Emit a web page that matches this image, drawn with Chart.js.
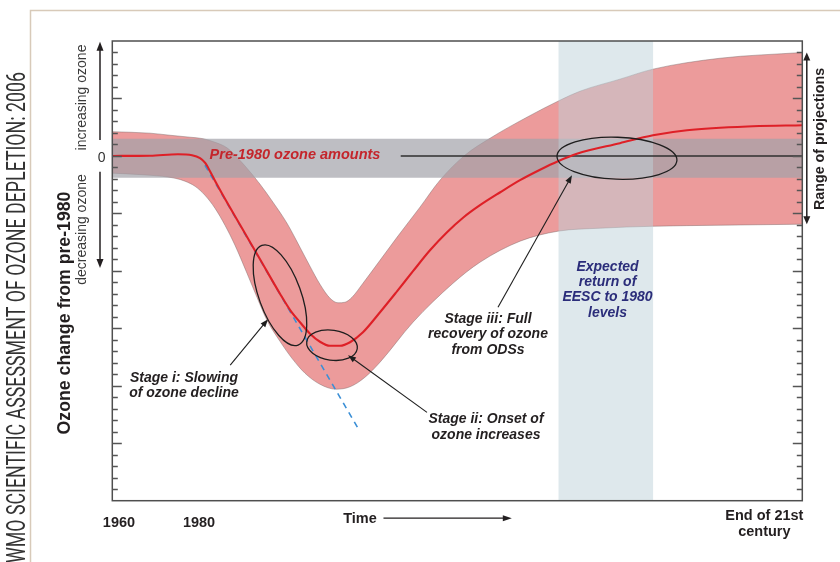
<!DOCTYPE html>
<html>
<head>
<meta charset="utf-8">
<title>Ozone recovery stages</title>
<script src="https://cdn.jsdelivr.net/npm/chart.js@4.4.1/dist/chart.umd.min.js"></script>
<style>
  html, body { margin: 0; padding: 0; background: #ffffff; }
  #wrap { width: 840px; height: 562px; }
</style>
</head>
<body>
<div id="wrap"><canvas id="chart" width="840" height="562"></canvas></div>
<script>
// Time runs on a schematic 0-100 axis (1960 .. end of the 21st century);
// ozone change is in schematic units relative to pre-1980 amounts (0).

// Central ozone projection
const centerTime  = [0, 5.46, 9.52, 11.55, 12.71, 13.43, 14.16, 14.88, 16.04, 18.51, 21.41, 24.3, 25.75, 27.2, 28.65, 30.1, 31.55, 33.0, 34.45, 36.33, 38.8, 41.26, 43.58, 46.04, 48.51, 50.83, 53.29, 56.23, 59.09, 61.99, 64.59, 67.33, 73.57, 78.36, 83.29, 92.86, 100];
const centerOzone = [0, 0.02, 0.15, 0.06, -0.2, -0.59, -1.33, -2.16, -3.42, -5.99, -8.99, -11.99, -13.39, -14.47, -15.47, -16.17, -16.52, -16.52, -16.21, -15.34, -13.6, -11.78, -10.03, -8.21, -6.64, -5.38, -4.29, -3.16, -2.11, -1.2, -0.46, 0.19, 1.11, 1.8, 2.24, 2.58, 2.67];

// Upper edge of the range of projections
const upperTime  = [0, 5.46, 8.36, 11.26, 13.14, 14.88, 16.62, 18.07, 19.52, 21.41, 23.29, 25.32, 27.2, 28.65, 30.1, 31.55, 32.71, 33.73, 34.74, 36.33, 38.8, 41.26, 44.59, 47.49, 51.1, 54.75, 60.1, 64.88, 67.78, 73.57, 78.36, 88.07, 100];
const upperOzone = [2.11, 1.98, 1.8, 1.63, 1.5, 1.19, 0.71, -0.11, -1.07, -2.46, -4.03, -5.86, -7.95, -9.6, -11.17, -12.38, -12.78, -12.73, -12.3, -11.08, -9.08, -7.08, -4.46, -2.11, 0.06, 1.54, 3.37, 4.85, 5.63, 6.68, 7.55, 8.5, 9.0];

// Lower edge of the range of projections
const lowerTime  = [0, 5.46, 9.09, 10.54, 11.99, 13.43, 14.88, 16.33, 17.78, 19.52, 20.97, 22.42, 24.3, 26.04, 27.93, 30.1, 32.42, 34.45, 36.62, 38.8, 43.58, 49.38, 53.29, 59.09, 64.59, 70.68, 78.36, 88.07, 100];
const lowerOzone = [-1.5, -1.68, -1.94, -2.2, -2.64, -3.42, -4.55, -6.03, -7.77, -10.21, -12.3, -14.3, -16.13, -17.61, -18.91, -19.87, -20.3, -20.09, -19.26, -17.95, -14.47, -11.08, -9.25, -7.42, -6.55, -6.29, -6.12, -6.03, -5.94];

// Pre-1980 ozone amounts (band) and the zero reference line
const pre1980Span = [0, 100];
const pre1980Band = [1.5, -1.9];
const zeroLineTime = [41.8, 100];

// Linear extrapolation of the early decline
const trendTime  = [13.43, 35.61];
const trendOzone = [-0.81, -23.7];

// Expected return of EESC to 1980 levels
const eescReturn = [64.64, 78.4];

// Axis range and tick labels
const timeRange  = [0, 100];
const ozoneRange = [-30, 10];
const xTickPos    = [0.97, 12.57, 94.5];
const xTickLabels = ['1960', '1980', ['End of 21st', 'century']];

// Annotation anchors (time, ozone)
const stageNotes = [
  { at: [10.39, -19.65], lines: ['Stage i: Slowing', 'of ozone decline'], step: 15.5, color: '#231f20' },
  { at: [54.16, -23.26], lines: ['Stage ii: Onset of', 'ozone increases'], step: 16, color: '#231f20' },
  { at: [54.45, -14.52], lines: ['Stage iii: Full', 'recovery of ozone', 'from ODSs'], step: 15.5, color: '#231f20' },
  { at: [71.77, -9.99], lines: ['Expected', 'return of', 'EESC to 1980', 'levels'], step: 15.3, color: '#2b2d7a' }
];
const stageRings = [
  { at: [24.3, -12.12], rx: 53, ry: 21, rot: 70 },
  { at: [31.84, -16.47], rx: 25.5, ry: 15, rot: 8 },
  { at: [73.14, -0.2], rx: 60, ry: 21, rot: 2 }
];
const stagePointers = [
  { from: [17.09, -18.21], to: [22.57, -14.21] },
  { from: [45.61, -22.31], to: [34.16, -17.34] },
  { from: [55.9, -13.17], to: [66.62, -1.68] }
];

const FONT = '"Liberation Sans", Arial, Helvetica, sans-serif';
const pts = (xs, ys) => xs.map((t, i) => ({ x: t, y: ys[i] }));
const CLEAR = 'rgba(0,0,0,0)';

function arrowHead(ctx, x1, y1, x2, y2, len, w) {
  const a = Math.atan2(y2 - y1, x2 - x1);
  const c = Math.cos(a), s = Math.sin(a);
  ctx.beginPath();
  ctx.moveTo(x2, y2);
  ctx.lineTo(x2 - len * c + (w / 2) * s, y2 - len * s - (w / 2) * c);
  ctx.lineTo(x2 - len * c - (w / 2) * s, y2 - len * s + (w / 2) * c);
  ctx.closePath();
  ctx.fill();
}

function arrow(ctx, x1, y1, x2, y2, len, w, both) {
  const a = Math.atan2(y2 - y1, x2 - x1);
  const c = Math.cos(a), s = Math.sin(a);
  ctx.beginPath();
  ctx.moveTo(both ? x1 + len * 0.6 * c : x1, both ? y1 + len * 0.6 * s : y1);
  ctx.lineTo(x2 - len * 0.6 * c, y2 - len * 0.6 * s);
  ctx.stroke();
  arrowHead(ctx, x1, y1, x2, y2, len, w);
  if (both) arrowHead(ctx, x2, y2, x1, y1, len, w);
}

function vText(ctx, text, x, y, font, color) {
  ctx.save();
  ctx.translate(x, y);
  ctx.rotate(-Math.PI / 2);
  ctx.font = font;
  ctx.fillStyle = color;
  ctx.textAlign = 'center';
  ctx.textBaseline = 'alphabetic';
  ctx.fillText(text, 0, 0);
  ctx.restore();
}

const decor = {
  id: 'decor',
  beforeDraw(chart) {
    const { ctx, width, height } = chart;
    ctx.save();
    ctx.fillStyle = '#ffffff';
    ctx.fillRect(0, 0, width, height);
    // page frame
    ctx.strokeStyle = '#d8cab9';
    ctx.lineWidth = 1.5;
    ctx.beginPath();
    ctx.moveTo(30.5, height);
    ctx.lineTo(30.5, 10.5);
    ctx.lineTo(width, 10.5);
    ctx.stroke();
    // running title
    ctx.translate(25, 563);
    ctx.rotate(-Math.PI / 2);
    ctx.font = '400 25px Roboto, "DejaVu Sans", sans-serif';
    ctx.fillStyle = '#333333';
    ctx.textBaseline = 'alphabetic';
    ctx.textAlign = 'left';
    const title = 'WMO SCIENTIFIC ASSESSMENT OF OZONE DEPLETION: 2006';
    const w = ctx.measureText(title).width;
    ctx.scale(491 / w, 1);
    ctx.fillText(title, 0, 0);
    ctx.restore();
  },
  afterDatasetsDraw(chart) {
    const { ctx, chartArea: a, scales: { x, y } } = chart;
    const X = v => x.getPixelForValue(v);
    const Y = v => y.getPixelForValue(v);
    ctx.save();

    // plot frame
    ctx.strokeStyle = '#4f4f4f';
    ctx.lineWidth = 1.5;
    ctx.strokeRect(a.left, a.top, a.width, a.height);

    // inward tick marks on both vertical edges
    ctx.lineWidth = 1.3;
    ctx.strokeStyle = '#555555';
    ctx.beginPath();
    for (let v = y.min + 1; v < y.max; v++) {
      const len = v % 5 === 0 ? 9.5 : 5.5;
      const py = Math.round(Y(v)) + 0.5;
      ctx.moveTo(a.left, py); ctx.lineTo(a.left + len, py);
      ctx.moveTo(a.right, py); ctx.lineTo(a.right - len, py);
    }
    ctx.stroke();

    // zero label
    ctx.fillStyle = '#333333';
    ctx.font = '14px ' + FONT;
    ctx.textAlign = 'center';
    ctx.textBaseline = 'alphabetic';
    ctx.fillText('0', a.left - 10.6, Y(0) + 5.8);

    // x tick labels
    ctx.fillStyle = '#231f20';
    ctx.font = 'bold 14.5px ' + FONT;
    xTickLabels.forEach((lab, i) => {
      const px = X(xTickPos[i]);
      if (Array.isArray(lab)) {
        lab.forEach((ln, j) => ctx.fillText(ln, px, a.bottom + 19.3 + j * 15.5));
      } else {
        ctx.fillText(lab, px, a.bottom + 26);
      }
    });

    // time label and arrow
    ctx.fillText('Time', X(35.9), a.bottom + 22.3);
    ctx.strokeStyle = '#231f20';
    ctx.fillStyle = '#231f20';
    ctx.lineWidth = 1.3;
    arrow(ctx, X(39.3), a.bottom + 17.5, X(57.9), a.bottom + 17.5, 9, 6, false);

    // increasing / decreasing arrows
    ctx.lineWidth = 1.5;
    arrow(ctx, a.left - 12.3, Y(1.38), a.left - 12.3, a.top + 0.7, 9, 7, false);
    arrow(ctx, a.left - 12.3, Y(-1.38), a.left - 12.3, Y(-9.75), 9, 7, false);
    vText(ctx, 'increasing ozone', a.left - 26.8, 97.5, '14px ' + FONT, '#3a3a3a');
    vText(ctx, 'decreasing ozone', a.left - 26.8, 229.5, '14px ' + FONT, '#3a3a3a');
    vText(ctx, 'Ozone change from pre-1980', a.left - 42.6, 313, 'bold 17.7px ' + FONT, '#231f20');

    // range of projections
    ctx.lineWidth = 1.5;
    arrow(ctx, a.right + 4.5, Y(upperOzone[upperOzone.length - 1]), a.right + 4.5, Y(lowerOzone[lowerOzone.length - 1]), 8, 7, true);
    vText(ctx, 'Range of projections', a.right + 21.4, 139, 'bold 14.3px ' + FONT, '#231f20');

    // pre-1980 label
    ctx.fillStyle = '#c4262c';
    ctx.font = 'italic bold 14.5px ' + FONT;
    ctx.textAlign = 'center';
    ctx.fillText('Pre-1980 ozone amounts', X(26.48), Y(-0.31));

    // rings around the stages
    ctx.strokeStyle = '#1e1e1e';
    ctx.lineWidth = 1.3;
    stageRings.forEach(r => {
      ctx.beginPath();
      ctx.ellipse(X(r.at[0]), Y(r.at[1]), r.rx, r.ry, r.rot * Math.PI / 180, 0, Math.PI * 2);
      ctx.stroke();
    });

    // pointers
    ctx.fillStyle = '#1e1e1e';
    ctx.lineWidth = 1.1;
    stagePointers.forEach(p => {
      arrow(ctx, X(p.from[0]), Y(p.from[1]), X(p.to[0]), Y(p.to[1]), 8, 6, false);
    });

    // stage notes
    ctx.font = 'italic bold 14px ' + FONT;
    ctx.textAlign = 'center';
    stageNotes.forEach(n => {
      ctx.fillStyle = n.color;
      n.lines.forEach((ln, j) => ctx.fillText(ln, X(n.at[0]), Y(n.at[1]) + j * n.step));
    });

    ctx.restore();
  }
};

new Chart(document.getElementById('chart'), {
  type: 'line',
  data: {
    datasets: [
      {
        label: 'Range of projections (upper)',
        data: pts(upperTime, upperOzone),
        borderColor: 'rgba(120,100,100,0.55)', borderWidth: 0.8,
        backgroundColor: '#ec9b9b', fill: '+1',
        cubicInterpolationMode: 'monotone', pointRadius: 0, order: 10
      },
      {
        label: 'Range of projections (lower)',
        data: pts(lowerTime, lowerOzone),
        borderColor: 'rgba(120,100,100,0.55)', borderWidth: 0.8,
        fill: false, cubicInterpolationMode: 'monotone', pointRadius: 0, order: 9
      },
      {
        label: 'Pre-1980 ozone amounts (top)',
        data: pre1980Span.map(t => ({ x: t, y: pre1980Band[0] })),
        borderColor: CLEAR, borderWidth: 1,
        backgroundColor: 'rgba(163,163,170,0.7)', fill: '+1', pointRadius: 0, order: 8
      },
      {
        label: 'Pre-1980 ozone amounts (bottom)',
        data: pre1980Span.map(t => ({ x: t, y: pre1980Band[1] })),
        borderColor: CLEAR, borderWidth: 1, fill: false, pointRadius: 0, order: 7
      },
      {
        label: 'Expected return of EESC to 1980 levels',
        data: eescReturn.map(t => ({ x: t, y: ozoneRange[1] })),
        borderColor: CLEAR, borderWidth: 1,
        backgroundColor: 'rgba(189,209,217,0.5)', fill: 'start', pointRadius: 0, order: 6
      },
      {
        label: 'Decline trend',
        data: pts(trendTime, trendOzone),
        borderColor: '#3b8fd6', borderWidth: 1.6, borderDash: [6, 5],
        fill: false, pointRadius: 0, order: 5
      },
      {
        label: 'Zero',
        data: zeroLineTime.map(t => ({ x: t, y: 0 })),
        borderColor: '#2f2f2f', borderWidth: 1.4, fill: false, pointRadius: 0, order: 4
      },
      {
        label: 'Ozone',
        data: pts(centerTime, centerOzone),
        borderColor: '#de2027', borderWidth: 2.1, fill: false,
        cubicInterpolationMode: 'monotone', pointRadius: 0, order: 3
      }
    ]
  },
  options: {
    responsive: false,
    animation: false,
    events: [],
    devicePixelRatio: 1,
    layout: { padding: { left: 112.3, right: 37.7, top: 41, bottom: 61.3 } },
    plugins: { legend: { display: false }, tooltip: { enabled: false }, title: { display: false } },
    scales: {
      x: { type: 'linear', min: timeRange[0], max: timeRange[1], display: false },
      y: { type: 'linear', min: ozoneRange[0], max: ozoneRange[1], display: false }
    }
  },
  plugins: [decor]
});
</script>
</body>
</html>
